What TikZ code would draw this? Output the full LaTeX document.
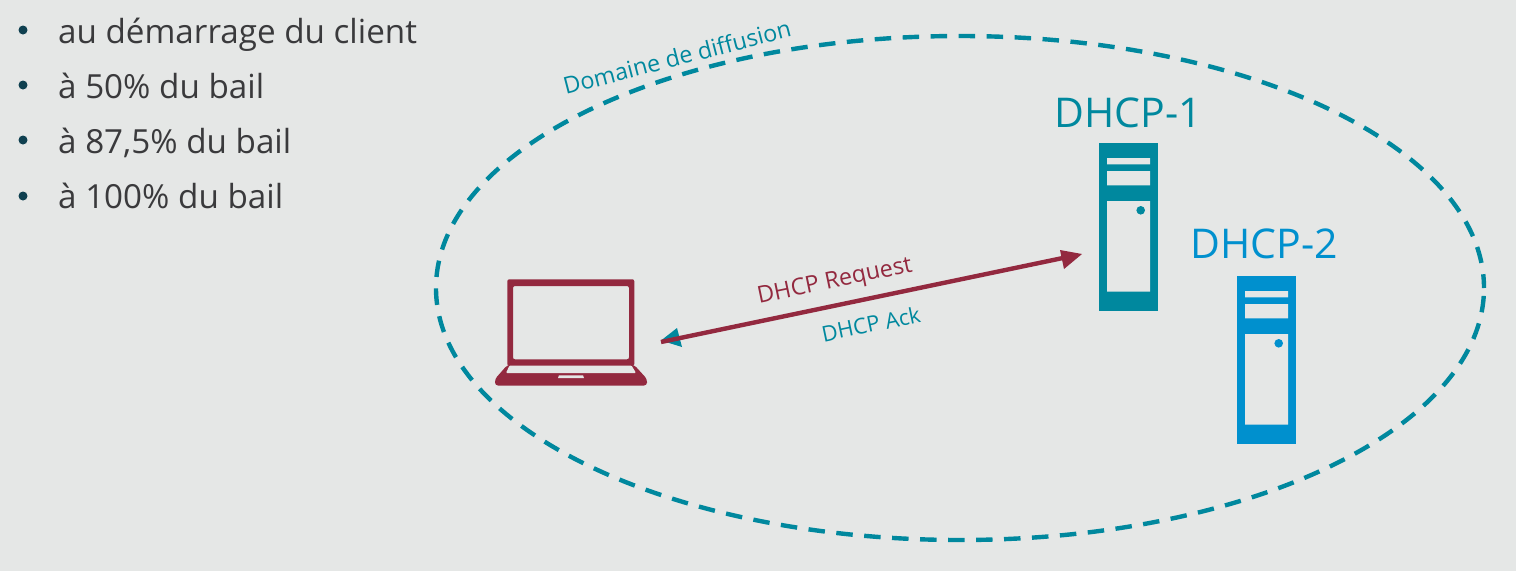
\documentclass[tikz,border=0pt]{standalone}
\usepackage{fontspec}
\usetikzlibrary{calc,shapes.geometric}
\setmainfont{Open Sans}
\definecolor{bgc}{HTML}{E5E7E6}
\definecolor{tealc}{HTML}{00889E}
\definecolor{bluec}{HTML}{0090CE}
\definecolor{redc}{HTML}{93293F}
\definecolor{textc}{HTML}{3A3A3C}
\definecolor{bulc}{HTML}{0F4050}
\tikzset{
  item/.style={anchor=base west,inner sep=0pt,text=textc,font=\fontsize{33.2}{33}\selectfont},
  bul/.style={circle,fill=bulc,minimum size=9pt,inner sep=0pt},
  srvlabel/.style={anchor=base,inner sep=0pt,font=\fontsize{41}{41}\selectfont},
  small/.style={anchor=center,inner sep=0pt,font=\fontsize{23.3}{23}\selectfont},
  smaller/.style={anchor=center,inner sep=0pt,font=\fontsize{21.8}{22}\selectfont},
}
\newcommand{\serverpic}[3]{%
  \begin{scope}[shift={(#1,#2)}]
    \fill[#3] (0,0) rectangle (59,168);
    \fill[bgc] (8,15) rectangle (51,21.3)
               (8,28) rectangle (51,42.3)
               (8,58) rectangle (51,148.7);
    \fill[#3] (41.7,67.3) circle (4.3);
  \end{scope}}
\begin{document}
\begin{tikzpicture}[x=1pt,y=-1pt]
\useasboundingbox (0,0) rectangle (1516,571);
\fill[bgc] (0,0) rectangle (1516,571);
% bullets
\node[item] (ta) at (58,43) {au démarrage du client};
\node[item] (tb) at (58,98) {à 50\% du bail};
\node[item] (tc) at (58,153) {à 87,5\% du bail};
\node[item] (td) at (58,208) {à 100\% du bail};
\node[bul] (ba) at (23,30) {};
\node[bul] (bb) at (23,85) {};
\node[bul] (bc) at (23,140) {};
\node[bul] (bd) at (23,196) {};
% ellipse
\node[draw=tealc,line width=4.4pt,dash pattern=on 16.5pt off 11.5pt,dash phase=2.7pt,ellipse,inner sep=0pt,
  minimum width=1048pt,minimum height=504pt] (dom) at (960,288) {};
\node[small,text=tealc,rotate=14.5] (domt) at (677,57) {Domaine de diffusion};
% laptop
\fill[redc,rounded corners=2pt,even odd rule]
  (507.3,279.3) rectangle (634.3,366) (513,286) rectangle (629,359.3);
\fill[redc,rounded corners=3pt]
  (507.3,365) -- (634.3,365) -- (647,379) -- (647,385.5) -- (495,385.5) -- (495,379) -- cycle;
\fill[bgc,rounded corners=1pt] (509.5,365.5) -- (631.5,365.5) -- (636,373) -- (506,373) -- cycle;
\fill[bgc] (559,375.3) -- (583,375.3) -- (584,378) -- (558,378) -- cycle;
\coordinate (client) at (661,342);
% servers
\serverpic{1099}{143}{tealc}
\serverpic{1237}{276}{bluec}
\node[srvlabel,text=tealc] (d1) at (1128,127) {DHCP-1};
\node[srvlabel,text=bluec] (d2) at (1264,258) {DHCP-2};
\coordinate (srv) at (1082,254);
% arrow
\fill[tealc] (661,340.5) -- (677,328) -- (682,347) -- cycle;
\draw[redc,line width=4.4pt] (client) -- ($(client)!0.96!(srv)$);
\fill[redc] (srv) -- (1060,250) -- (1064,269) -- cycle;
\node[small,text=redc,rotate=11.8] (req) at (835,282) {DHCP Request};
\node[smaller,text=tealc,rotate=11.8] (ack) at (871,324) {DHCP Ack};
\end{tikzpicture}
\end{document}
